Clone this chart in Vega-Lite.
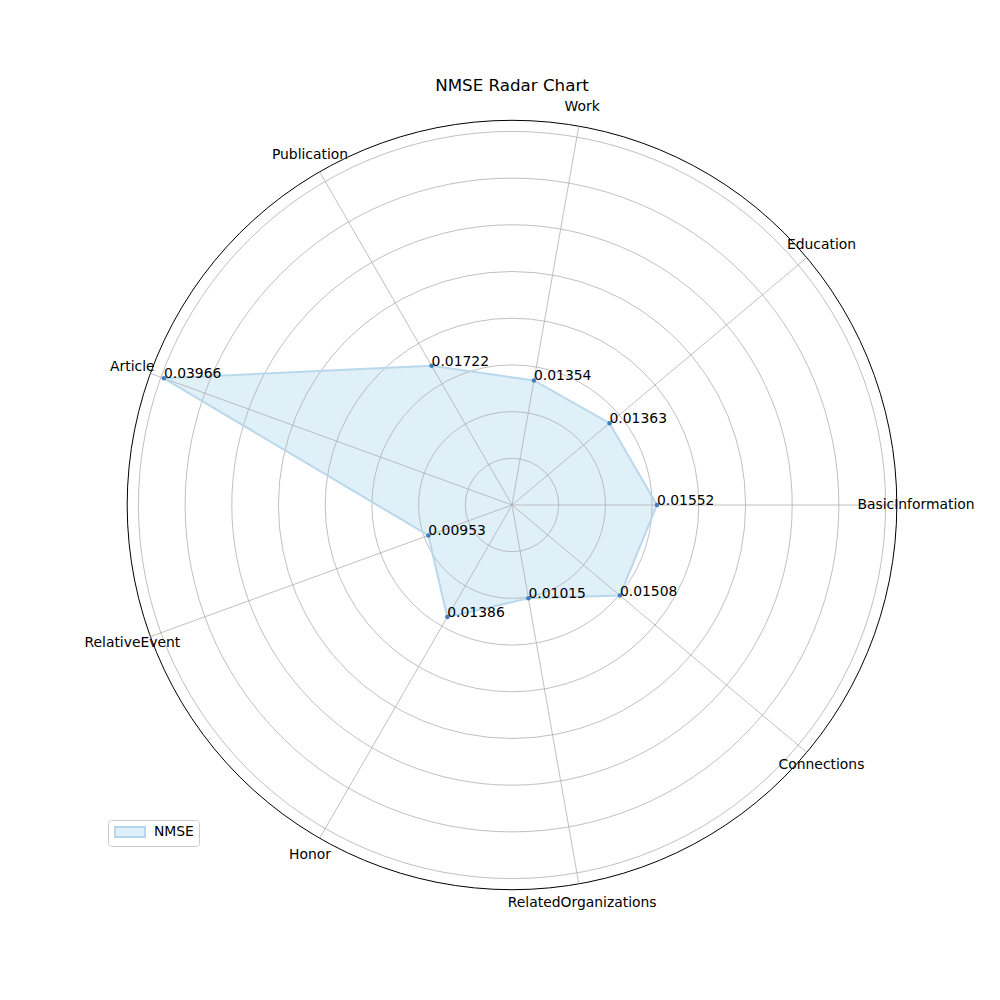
{
  "$schema": "https://vega.github.io/schema/vega-lite/v6.json",
  "width": 1000,
  "height": 900,
  "autosize": {"type": "none"},
  "padding": {"top": 100, "left": 0, "right": 0, "bottom": 0},
  "background": "white",
  "config": {"view": {"stroke": null}, "font": "DejaVu Sans"},
  "title": {"text": "NMSE Radar Chart", "fontSize": 16.7, "fontWeight": "normal", "font": "DejaVu Sans", "color": "black", "anchor": "middle", "frame": "group", "baseline": "alphabetic", "offset": 9, "dx": 12, "dy": 17},
  "datasets": {
    "cats": [
      {"category": "BasicInformation", "value": 0.01552, "series": "NMSE"},
      {"category": "Education", "value": 0.01363, "series": "NMSE"},
      {"category": "Work", "value": 0.01354, "series": "NMSE"},
      {"category": "Publication", "value": 0.01722, "series": "NMSE"},
      {"category": "Article", "value": 0.03966, "series": "NMSE"},
      {"category": "RelativeEvent", "value": 0.00953, "series": "NMSE"},
      {"category": "Honor", "value": 0.01386, "series": "NMSE"},
      {"category": "RelatedOrganizations", "value": 0.01015, "series": "NMSE"},
      {"category": "Connections", "value": 0.01508, "series": "NMSE"}
    ],
    "rings": [
      {"r": 0.005, "kind": "grid"},
      {"r": 0.010, "kind": "grid"},
      {"r": 0.015, "kind": "grid"},
      {"r": 0.020, "kind": "grid"},
      {"r": 0.025, "kind": "grid"},
      {"r": 0.030, "kind": "grid"},
      {"r": 0.035, "kind": "grid"},
      {"r": 0.040, "kind": "grid"},
      {"r": 0.041188, "kind": "outer"}
    ]
  },
  "data": {"name": "cats"},
  "transform": [
    {"window": [{"op": "row_number", "as": "idx"}]},
    {"joinaggregate": [{"op": "count", "as": "n"}]},
    {"calculate": "(datum.idx-1)*2*PI/datum.n", "as": "ang"},
    {"calculate": "datum.value*cos(datum.ang)", "as": "px"},
    {"calculate": "datum.value*sin(datum.ang)", "as": "py"},
    {"calculate": "0", "as": "o"},
    {"calculate": "0.041188*cos(datum.ang)", "as": "sx"},
    {"calculate": "0.041188*sin(datum.ang)", "as": "sy"},
    {"calculate": "0.043255*cos(datum.ang)", "as": "lx"},
    {"calculate": "0.043255*sin(datum.ang)", "as": "ly"}
  ],
  "layer": [
    {
      "mark": {"type": "line", "interpolate": "linear-closed", "strokeOpacity": 0},
      "encoding": {
        "x": {"field": "px", "type": "quantitative", "axis": null, "scale": {"domain": [-0.054818, 0.052248], "nice": false, "zero": false}},
        "y": {"field": "py", "type": "quantitative", "axis": null, "scale": {"domain": [-0.052998, 0.043362], "nice": false, "zero": false}},
        "order": {"field": "idx", "type": "quantitative"},
        "fill": {
          "field": "series", "type": "nominal",
          "scale": {"range": ["#dff0f8"]},
          "legend": {"title": null, "orient": "none", "legendX": 108, "legendY": 720, "symbolType": "M-1,-1H5V1H-1Z", "symbolSize": 100, "symbolStrokeColor": "#b5d5ea", "symbolStrokeWidth": 2, "labelFont": "DejaVu Sans", "labelFontSize": 13.9, "labelColor": "black", "labelOffset": 27, "padding": 5, "strokeColor": "#cccccc", "cornerRadius": 3, "fillColor": "white"}
        }
      }
    },
    {
      "data": {"name": "rings"},
      "transform": [{"calculate": "0", "as": "o"}],
      "mark": {"type": "arc", "filled": false},
      "encoding": {
        "x": {"field": "o", "type": "quantitative", "axis": null},
        "y": {"field": "o", "type": "quantitative", "axis": null},
        "radius": {"field": "r", "type": "quantitative", "stack": null, "scale": {"type": "linear", "domain": [0, 0.041188], "range": [0, 384.7], "zero": true}},
        "stroke": {"field": "kind", "type": "nominal", "scale": {"domain": ["grid", "outer"], "range": ["#b0b0b0", "#000000"]}, "legend": null},
        "strokeWidth": {"field": "kind", "type": "nominal", "scale": {"domain": ["grid", "outer"], "range": [0.8, 1]}, "legend": null}
      }
    },
    {
      "mark": {"type": "rule", "color": "#b0b0b0", "strokeWidth": 0.8},
      "encoding": {
        "x": {"field": "o", "type": "quantitative", "axis": null},
        "y": {"field": "o", "type": "quantitative", "axis": null},
        "x2": {"field": "sx"},
        "y2": {"field": "sy"}
      }
    },
    {
      "mark": {"type": "line", "interpolate": "linear-closed", "stroke": "#b9d8ec", "strokeWidth": 2},
      "encoding": {
        "x": {"field": "px", "type": "quantitative", "axis": null},
        "y": {"field": "py", "type": "quantitative", "axis": null},
        "order": {"field": "idx", "type": "quantitative"}
      }
    },
    {
      "mark": {"type": "point", "filled": true, "size": 20, "color": "#3f7fbf", "opacity": 1},
      "encoding": {
        "x": {"field": "px", "type": "quantitative", "axis": null},
        "y": {"field": "py", "type": "quantitative", "axis": null}
      }
    },
    {
      "mark": {"type": "text", "align": "left", "baseline": "alphabetic", "fontSize": 13.9, "font": "DejaVu Sans", "color": "black"},
      "encoding": {
        "x": {"field": "px", "type": "quantitative", "axis": null},
        "y": {"field": "py", "type": "quantitative", "axis": null},
        "text": {"field": "value", "type": "quantitative", "format": ".5f"}
      }
    },
    {
      "mark": {"type": "text", "align": "center", "baseline": "middle", "fontSize": 13.9, "font": "DejaVu Sans", "color": "black"},
      "encoding": {
        "x": {"field": "lx", "type": "quantitative", "axis": null},
        "y": {"field": "ly", "type": "quantitative", "axis": null},
        "text": {"field": "category", "type": "nominal"}
      }
    }
  ]
}
